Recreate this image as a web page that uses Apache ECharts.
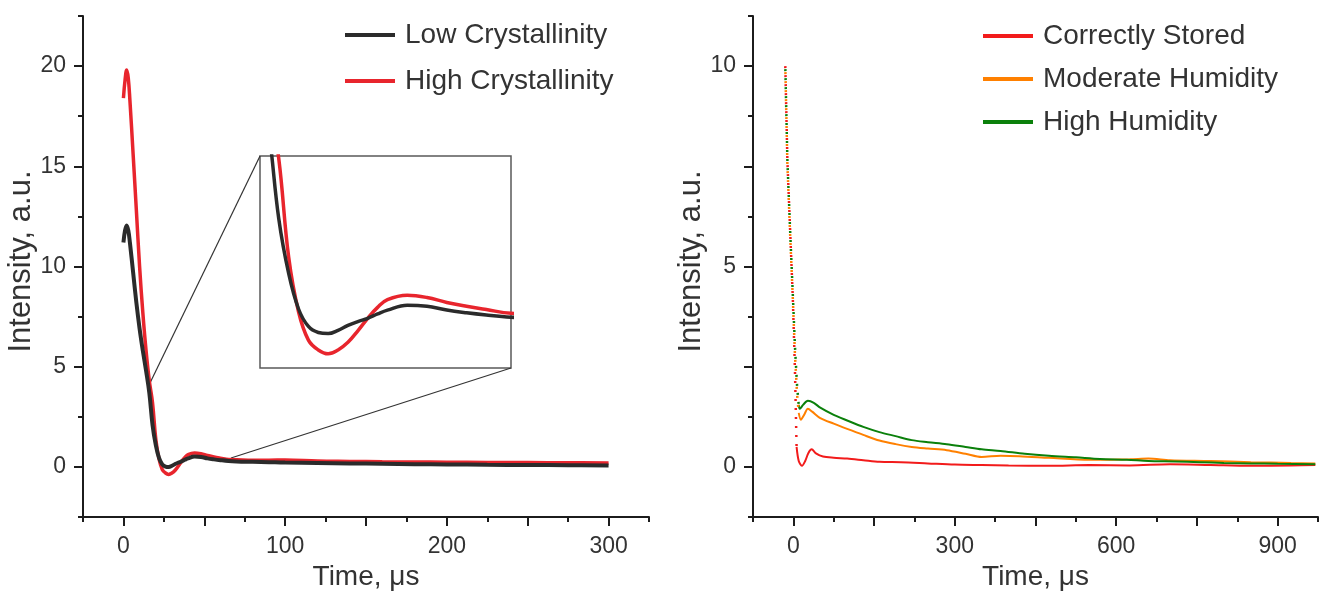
<!DOCTYPE html>
<html>
<head>
<meta charset="utf-8">
<title>Luminescence decay</title>
<script src="https://cdn.jsdelivr.net/npm/echarts@6.0.0/dist/echarts.min.js"></script>
<style>
  html, body { margin: 0; padding: 0; background: #fff; }
  #chart { width: 1320px; height: 596px; }
</style>
</head>
<body>
<div id="chart"></div>
<script>
// ---- left panel: crystallinity ----
var crystT = [0, 1, 2, 3, 4, 6, 8, 10, 12, 14, 16, 18, 20, 22, 24, 26, 28, 30, 32, 34, 36, 38, 40, 44, 48, 52, 56, 60, 65, 70, 80, 90, 100, 120, 140, 160, 180, 200, 225, 250, 275, 300];
var lowCryst = [11.2, 11.8, 12.05, 11.8, 11.2, 9.7, 8.2, 6.9, 5.8, 4.8, 3.7, 2.1, 1.1, 0.45, 0.13, 0.02, 0.0, 0.06, 0.15, 0.22, 0.28, 0.36, 0.43, 0.52, 0.5, 0.43, 0.38, 0.34, 0.3, 0.28, 0.26, 0.24, 0.22, 0.2, 0.18, 0.16, 0.14, 0.13, 0.11, 0.1, 0.09, 0.08];
var highCryst = [18.4, 19.3, 19.8, 19.4, 18.3, 15.6, 12.8, 10.0, 7.7, 5.8, 4.3, 3.2, 1.4, 0.4, -0.12, -0.3, -0.37, -0.3, -0.16, 0.05, 0.28, 0.48, 0.62, 0.7, 0.66, 0.57, 0.5, 0.44, 0.37, 0.36, 0.34, 0.34, 0.35, 0.3, 0.28, 0.26, 0.25, 0.24, 0.23, 0.22, 0.21, 0.2];

// inset: zoomed window and the main-plot region it is linked to
var insetX = [14.2, 65];
var insetY = [-0.63, 3.25];
var zoomFrom = [15, 3.95];
var zoomTo = [66.5, 0.45];

// ---- right panel: storage humidity ----
var storedDropT = [-15, -11, -6, -1, 3, 6];
var storedDrop = [10, 7.6, 5.9, 4.2, 2.4, 0.5];
var moderateDropT = [-15, -11, -6, -1, 3, 7, 10];
var moderateDrop = [10, 7.5, 5.8, 4.2, 2.8, 1.8, 1.35];
var humidDropT = [-15, -11, -6, -1, 3, 7, 10];
var humidDrop = [10, 7.6, 5.9, 4.3, 3.0, 2.0, 1.55];

var storedT = [6, 10, 16, 22, 28, 34, 42, 55, 75, 100, 130, 160, 200, 250, 300, 350, 400, 475, 550, 625, 700, 775, 850, 925, 970];
var stored = [0.5, 0.15, 0.03, 0.15, 0.35, 0.44, 0.34, 0.26, 0.23, 0.21, 0.17, 0.13, 0.12, 0.09, 0.06, 0.05, 0.04, 0.03, 0.05, 0.04, 0.07, 0.05, 0.03, 0.04, 0.05];
var moderateT = [10, 14, 20, 27, 35, 50, 75, 100, 130, 160, 190, 220, 250, 285, 320, 350, 385, 420, 475, 550, 625, 660, 700, 775, 850, 925, 970];
var moderate = [1.35, 1.18, 1.3, 1.45, 1.38, 1.22, 1.08, 0.95, 0.8, 0.66, 0.57, 0.5, 0.46, 0.42, 0.33, 0.25, 0.28, 0.27, 0.23, 0.18, 0.19, 0.21, 0.17, 0.15, 0.12, 0.1, 0.09];
var humidT = [10, 12, 18, 27, 38, 50, 75, 100, 130, 160, 190, 220, 250, 285, 320, 350, 385, 430, 475, 525, 570, 620, 660, 710, 755, 800, 850, 900, 970];
var humid = [1.55, 1.45, 1.55, 1.65, 1.6, 1.48, 1.3, 1.16, 1.0, 0.87, 0.77, 0.67, 0.62, 0.57, 0.5, 0.44, 0.4, 0.33, 0.28, 0.24, 0.2, 0.18, 0.15, 0.14, 0.12, 0.1, 0.09, 0.08, 0.07];

// ticks
var leftXMajor = [0, 50, 100, 150, 200, 250, 300];
var leftXMinor = [-25, 25, 75, 125, 175, 225, 275, 325];
var leftXLabels = [0, 100, 200, 300];
var leftYMajor = [0, 5, 10, 15, 20];
var leftYMinor = [-2.5, 2.5, 7.5, 12.5, 17.5, 22.5];
var leftYLabels = [0, 5, 10, 15, 20];
var rightXMajor = [0, 150, 300, 450, 600, 750, 900];
var rightXMinor = [-75, 75, 225, 375, 525, 675, 825, 975];
var rightXLabels = [0, 300, 600, 900];
var rightYMajor = [0, 2.5, 5, 7.5, 10];
var rightYMinor = [-1.25, 1.25, 3.75, 6.25, 8.75, 11.25];
var rightYLabels = [0, 5, 10];

var leftNames = ['Low Crystallinity', 'High Crystallinity'];
var rightNames = ['Correctly Stored', 'Moderate Humidity', 'High Humidity'];

var FONT = '"Liberation Sans", Arial, sans-serif';
var INK = '#1c1c1c';
var TEXT = '#333333';
var C_BLACK = '#2b2b2b', C_RED = '#e8252d';
var C_STORED = '#f21b1b', C_MOD = '#ff8000', C_HUMID = '#0b800b';

function pairs(t, v) {
  var out = [];
  for (var i = 0; i < t.length; i++) out.push([t[i], v[i]]);
  return out;
}

function mainAxis(dim, grid, min, max, ticks, labels, name, gap) {
  var isX = dim === 'x';
  return {
    type: 'value', gridIndex: grid, min: min, max: max,
    position: isX ? 'bottom' : 'left',
    name: name, nameLocation: 'middle', nameGap: gap,
    nameTextStyle: isX
      ? { fontFamily: FONT, fontSize: 28, color: TEXT }
      : { fontFamily: FONT, fontSize: 31, color: TEXT, padding: [0, 0, 0, 10] },
    splitLine: { show: false },
    axisLine: { show: true, onZero: false, lineStyle: { color: INK, width: 2 } },
    axisTick: { show: true, length: 9, customValues: ticks, lineStyle: { color: INK, width: 2 } },
    axisLabel: {
      customValues: labels, fontFamily: FONT, fontSize: 23, color: TEXT,
      margin: isX ? 18 : 17, padding: isX ? 0 : [0, 0, 6, 0]
    }
  };
}
function minorAxis(dim, grid, min, max, ticks) {
  return {
    type: 'value', gridIndex: grid, min: min, max: max,
    position: dim === 'x' ? 'bottom' : 'left',
    splitLine: { show: false },
    axisLine: { show: false, onZero: false },
    axisTick: { show: true, length: 5, customValues: ticks, lineStyle: { color: INK, width: 2 } },
    axisLabel: { show: false }
  };
}
function hiddenAxis(grid, min, max) {
  return { type: 'value', gridIndex: grid, min: min, max: max, show: false };
}

function line(name, data, xi, yi, color, width, extra) {
  var s = {
    name: name, type: 'line', data: data, xAxisIndex: xi, yAxisIndex: yi,
    showSymbol: false, symbol: 'none', color: color, clip: true,
    lineStyle: { color: color, width: width }, emphasis: { disabled: true }
  };
  for (var k in extra) s[k] = extra[k];
  return s;
}
function dotted(name, data, color, offset) {
  return line(name, data, 3, 3, color, 2.5, {
    lineStyle: { color: color, width: 2.5, type: [2, 7], dashOffset: offset }
  });
}

var chart = echarts.init(document.getElementById('chart'), null, { renderer: 'canvas' });

var legendBase = {
  orient: 'vertical', icon: 'rect', itemWidth: 50, itemHeight: 4,
  textStyle: { fontFamily: FONT, fontSize: 28, color: TEXT, padding: [0, 0, 0, 5] },
  selectedMode: false
};

var option = {
  animation: false,
  backgroundColor: '#ffffff',
  textStyle: { fontFamily: FONT },
  grid: [
    { left: 83, top: 16, width: 566, height: 507 },
    { left: 260, top: 156, width: 251, height: 212, show: true, borderColor: '#5a5a5a', borderWidth: 1.5, backgroundColor: 'transparent' },
    { left: 753, top: 16, width: 565, height: 507 }
  ],
  legend: [
    Object.assign({}, legendBase, { data: leftNames, left: 340, top: 16, itemGap: 18 }),
    Object.assign({}, legendBase, { data: rightNames, left: 978, top: 17, itemGap: 15 })
  ],
  xAxis: [
    mainAxis('x', 0, -25, 325, leftXMajor, leftXLabels, 'Time, μs', 40),
    minorAxis('x', 0, -25, 325, leftXMinor),
    hiddenAxis(1, insetX[0], insetX[1]),
    mainAxis('x', 2, -75, 975, rightXMajor, rightXLabels, 'Time, μs', 40),
    minorAxis('x', 2, -75, 975, rightXMinor)
  ],
  yAxis: [
    mainAxis('y', 0, -2.5, 22.5, leftYMajor, leftYLabels, 'Intensity, a.u.', 42),
    minorAxis('y', 0, -2.5, 22.5, leftYMinor),
    hiddenAxis(1, insetY[0], insetY[1]),
    mainAxis('y', 2, -1.25, 11.25, rightYMajor, rightYLabels, 'Intensity, a.u.', 40),
    minorAxis('y', 2, -1.25, 11.25, rightYMinor)
  ],
  series: [
    line(leftNames[1], pairs(crystT, highCryst), 0, 0, C_RED, 3.5, { smooth: 0.4 }),
    line(leftNames[0], pairs(crystT, lowCryst), 0, 0, C_BLACK, 4, { smooth: 0.4 }),
    line(leftNames[1], pairs(crystT, highCryst), 2, 2, C_RED, 3.5, { smooth: 0.4 }),
    line(leftNames[0], pairs(crystT, lowCryst), 2, 2, C_BLACK, 3.5, { smooth: 0.4 }),

    line(rightNames[0], pairs(storedT, stored), 3, 3, C_STORED, 2, { smooth: 0.3 }),
    line(rightNames[1], pairs(moderateT, moderate), 3, 3, C_MOD, 2, { smooth: 0.3 }),
    line(rightNames[2], pairs(humidT, humid), 3, 3, C_HUMID, 2, { smooth: 0.3 }),
    dotted(rightNames[0], pairs(storedDropT, storedDrop), C_STORED, 0),
    dotted(rightNames[1], pairs(moderateDropT, moderateDrop), C_MOD, 3),
    dotted(rightNames[2], pairs(humidDropT, humidDrop), C_HUMID, 6)
  ]
};

chart.setOption(option);

// connector lines from the zoomed region of the main plot to the inset box
var p1 = chart.convertToPixel({ xAxisIndex: 0, yAxisIndex: 0 }, zoomFrom);
var p2 = chart.convertToPixel({ xAxisIndex: 0, yAxisIndex: 0 }, zoomTo);
var q1 = chart.convertToPixel({ xAxisIndex: 2, yAxisIndex: 2 }, [insetX[0], insetY[1]]);
var q2 = chart.convertToPixel({ xAxisIndex: 2, yAxisIndex: 2 }, [insetX[1], insetY[0]]);
var connStyle = { stroke: '#333333', lineWidth: 1.2 };
chart.setOption({
  graphic: [
    { type: 'line', z: 1, shape: { x1: p1[0], y1: p1[1], x2: q1[0], y2: q1[1] }, style: connStyle, silent: true },
    { type: 'line', z: 1, shape: { x1: p2[0], y1: p2[1], x2: q2[0], y2: q2[1] }, style: connStyle, silent: true }
  ]
});
</script>
</body>
</html>
